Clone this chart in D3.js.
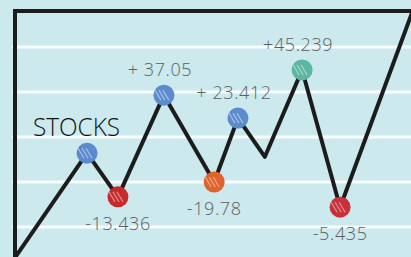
<!DOCTYPE html>
<meta charset="utf-8">
<head>
<style>
body { margin: 0; background: #cce9ee; overflow: hidden; }
.grid line { stroke: rgba(255,255,255,0.85); stroke-width: 3px; }
.frame { fill: none; stroke: #1c1c1c; stroke-width: 4px; stroke-linecap: round; }
.line { fill: none; stroke: #1c1c1c; stroke-width: 4px; stroke-linejoin: round; stroke-linecap: round; }
.label { font-family: "Open Sans", sans-serif; font-weight: 300; font-size: 18px; fill: #5e5e5e; letter-spacing: 0.6px; }
.title { font-family: "Open Sans", sans-serif; font-weight: 300; font-size: 25px; fill: #111; }
</style>
<script src="https://d3js.org/d3.v7.min.js"></script>
</head>
<body>
<script>

// chart data (time in days, price level)
var days   = [0, 1.82, 2.6, 3.76, 5.03, 5.63, 6.31, 7.25, 8.21, 10.05];
var prices = [3.2, 26.4, 16.7, 39.3, 20.0, 34.2, 25.6, 44.9, 14.4, 58.2];
// marker on some points: index, change label, colour
var markIndex  = [1, 2, 3, 4, 5, 7, 8];
var markLabels = ["", "-13.436", "+ 37.05", "-19.78", "+ 23.412", "+45.239", "-5.435"];
var markColors = ["#5b8bcc", "#c62a2c", "#5b8bcc", "#e0622c", "#5b8bcc", "#5bb7a2", "#c8303a"];
var gridValues = [10, 20, 30, 40, 50];

var width = 411, height = 257;

var svg = d3.select("body").append("svg")
    .attr("width", width)
    .attr("height", height);

var x = d3.scaleLinear().domain([0, 10]).range([15, 411]);
var y = d3.scaleLinear().domain([0, 60]).range([272, 2]);

// white horizontal lines
svg.append("g")
    .attr("class", "grid")
    .selectAll("line")
    .data(gridValues)
    .enter().append("line")
    .attr("x1", 12)
    .attr("x2", width)
    .attr("y1", d => y(d))
    .attr("y2", d => y(d));

// frame on top and left
svg.append("path")
    .attr("class", "frame")
    .attr("d", d3.line()([[x(0), height + 2], [x(0), y(58)], [width + 2, y(58)]]));

var pts = days.map((d, i) => [x(d), y(prices[i])]);

svg.append("path")
    .attr("class", "line")
    .attr("d", d3.line()(pts));

var marks = markIndex.map((idx, i) => ({
  cx: x(days[idx]),
  cy: y(prices[idx]),
  label: markLabels[i],
  color: markColors[i],
  up: markLabels[i].indexOf("+") === 0
}));

var g = svg.selectAll(".mark").data(marks).enter().append("g")
    .attr("class", "mark")
    .attr("transform", d => "translate(" + d.cx + "," + d.cy + ")");

g.append("circle")
    .attr("r", 10.5)
    .attr("fill", d => d.color);

// a few hatch strokes to imitate the hand colouring
[-4, 0, 4].forEach(function(o) {
  g.append("line")
      .attr("x1", -5 + o).attr("y1", -5)
      .attr("x2", 1 + o).attr("y2", 5)
      .attr("stroke", "rgba(255,255,255,0.45)")
      .attr("stroke-width", 1.2);
});

g.append("text")
    .attr("class", "label")
    .attr("text-anchor", "middle")
    .attr("x", d => d.up ? -4 : 0)
    .attr("y", d => d.up ? -19 : 33)
    .text(d => d.label);

svg.append("text")
    .attr("class", "title")
    .attr("x", 33)
    .attr("y", 136)
    .attr("textLength", 87)
    .attr("lengthAdjust", "spacingAndGlyphs")
    .text("STOCKS");

</script>
</body>
</html>
